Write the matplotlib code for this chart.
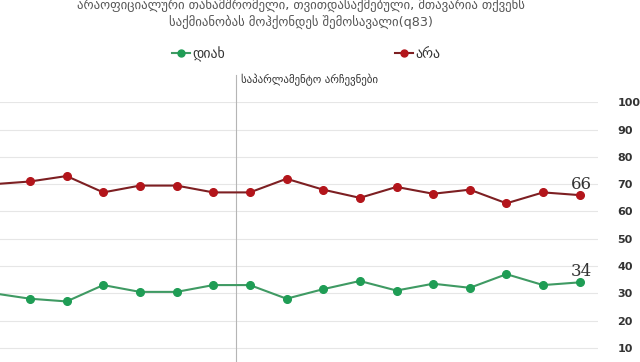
import matplotlib
matplotlib.use("Agg")
import matplotlib.pyplot as plt
from matplotlib.lines import Line2D

waves = list(range(17))
yes_vals = [30, 28, 27, 33, 30.5, 30.5, 33, 33, 28, 31.5, 34.5, 31, 33.5, 32, 37, 33, 34]
no_vals = [70, 71, 73, 67, 69.5, 69.5, 67, 67, 72, 68, 65, 69, 66.5, 68, 63, 67, 66]
series_names = ["დიახ", "არა"]
title_lines = ["არაოფიციალური თანამშრომელი, თვითდასაქმებული, მთავარია თქვენს",
               "საქმიანობას მოჰქონდეს შემოსავალი(q83)"]
event_label = "საპარლამენტო არჩევნები"
event_pos = 6.63
yticks = [10, 20, 30, 40, 50, 60, 70, 80, 90, 100]

fig = plt.figure(figsize=(6.4, 3.62), dpi=100)
ax = fig.add_axes([0.0, -0.036, 0.934, 0.753])

green_line = "#3f9a63"
green_mk = "#1f9d55"
red_line = "#7d1f22"
red_mk = "#b3151b"

ax.plot(waves, yes_vals, color=green_line, lw=1.5, marker="o", ms=5.5,
        mfc=green_mk, mec=green_mk, zorder=3)
ax.plot(waves, no_vals, color=red_line, lw=1.5, marker="o", ms=5.5,
        mfc=red_mk, mec=red_mk, zorder=3)

ax.axvline(event_pos, color="#b5b5b5", lw=0.8, zorder=1, ymax=1.1, clip_on=False)

ax.set_xlim(0.183, 16.49)
ax.set_ylim(0, 100)
ax.set_yticks(yticks)
ax.yaxis.tick_right()
ax.tick_params(axis="y", length=0, pad=14, labelsize=8, labelcolor="#333333")
for lab in ax.get_yticklabels():
    lab.set_fontweight("bold")
ax.set_xticks([])
ax.grid(axis="y", color="#e6e6e6", lw=0.8)
ax.set_axisbelow(True)
for s in ax.spines.values():
    s.set_visible(False)

ax.annotate(f"{no_vals[-1]:.0f}", (waves[-1], no_vals[-1]), xytext=(1, 7.5),
            textcoords="offset points", ha="center", va="center",
            fontsize=12, family="DejaVu Serif", color="#333333")
ax.annotate(f"{yes_vals[-1]:.0f}", (waves[-1], yes_vals[-1]), xytext=(1, 7.5),
            textcoords="offset points", ha="center", va="center",
            fontsize=12, family="DejaVu Serif", color="#333333")

fig.text(241 / 640, 1 - 80 / 362, event_label, fontsize=7.8,
         color="#333333", va="center", ha="left")

fig.text(301 / 640, 1 - 5 / 362, title_lines[0], fontsize=9.2, color="#555555",
         ha="center", va="center")
fig.text(301 / 640, 1 - 22 / 362, title_lines[1], fontsize=9.2, color="#555555",
         ha="center", va="center")

handles = [Line2D([0], [0], color=green_line, lw=1.5, marker="o", ms=5, mfc=green_mk, mec=green_mk),
           Line2D([0], [0], color=red_line, lw=1.5, marker="o", ms=5, mfc=red_mk, mec=red_mk)]
fig.legend(handles, series_names, loc="center", bbox_to_anchor=(306 / 640, 1 - 54 / 362),
           ncol=2, frameon=False, fontsize=10, handlelength=1.3, handletextpad=0.2,
           columnspacing=12.2, labelcolor="#333333")

fig.savefig("out.png", dpi=100)
